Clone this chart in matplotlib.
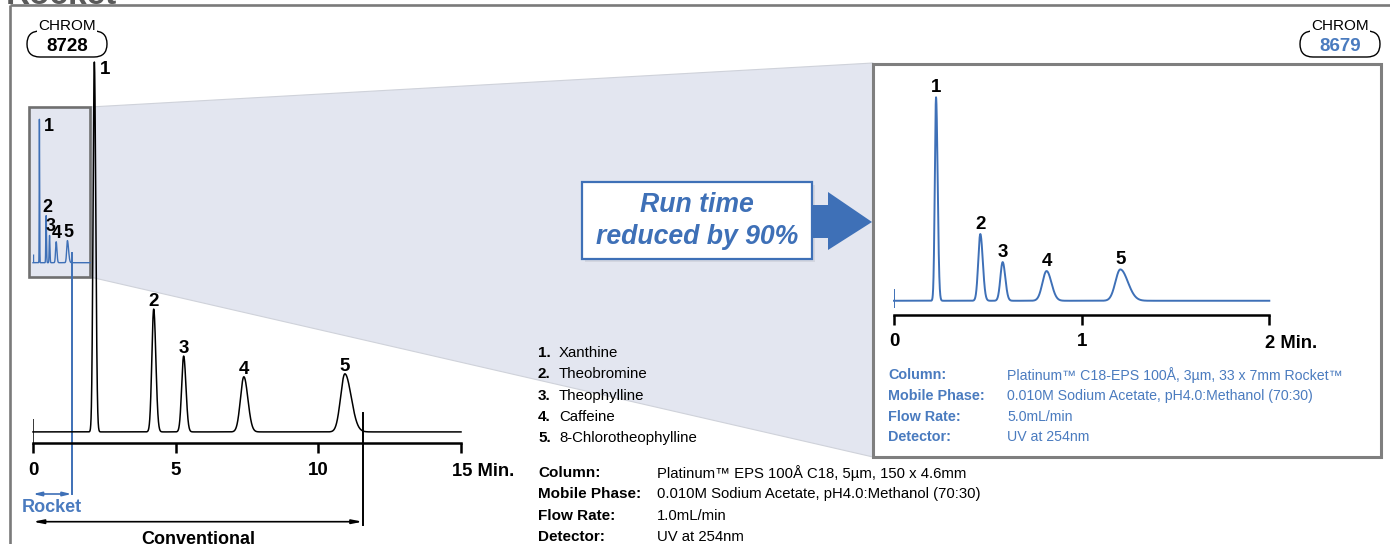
import matplotlib.pyplot as plt
import numpy as np
from matplotlib.patches import Polygon, Rectangle, FancyBboxPatch
from matplotlib.transforms import blended_transform_factory

W, H = 1390, 544

plt.rcParams['font.family'] = ['Liberation Sans', 'DejaVu Sans']

BLUE = '#3e70b7'
BLUE_TXT = '#4a7bbf'
SHADE = '#e3e6f0'

# peak table, conventional 150 x 4.6mm column (relative height, peak 1 = 100)
peak_ids = ['1', '2', '3', '4', '5']
compounds = ['Xanthine', 'Theobromine', 'Theophylline', 'Caffeine', '8-Chlorotheophylline']

conv_rt = [2.15, 4.23, 5.28, 7.39, 10.93]
conv_height = [100, 33.2, 20.5, 14.9, 15.7]
conv_sig_l = [0.045, 0.065, 0.07, 0.12, 0.15]
conv_sig_r = [0.05, 0.075, 0.08, 0.14, 0.22]
conv_run_end = 11.55
conv_ticks = [0, 5, 10, 15]

# peak table, Rocket 33 x 7mm column
rocket_rt = [0.224, 0.46, 0.579, 0.813, 1.206]
rocket_height = [100, 32.8, 19.0, 14.6, 15.4]
rocket_sig_l = [0.0065, 0.011, 0.012, 0.022, 0.026]
rocket_sig_r = [0.0085, 0.013, 0.014, 0.026, 0.04]
rocket_run_end = 1.35
rocket_ticks = [0, 1, 2]

cond_labels = ['Column:', 'Mobile Phase:', 'Flow Rate:', 'Detector:']
conv_cond = ['Platinum\u2122 EPS 100\u00c5 C18, 5\u00b5m, 150 x 4.6mm',
             '0.010M Sodium Acetate, pH4.0:Methanol (70:30)',
             '1.0mL/min',
             'UV at 254nm']
rocket_cond = ['Platinum\u2122 C18-EPS 100\u00c5, 3\u00b5m, 33 x 7mm Rocket\u2122',
               '0.010M Sodium Acetate, pH4.0:Methanol (70:30)',
               '5.0mL/min',
               'UV at 254nm']


def trace(t, rt, height, sl, sr):
    y = np.zeros_like(t)
    for r, h, a, b in zip(rt, height, sl, sr):
        s = np.where(t < r, a, b)
        y += h * np.exp(-0.5 * ((t - r) / s) ** 2)
    return y


def rect(x0, y0, x1, y1):
    return [x0 / W, 1 - y1 / H, (x1 - x0) / W, (y1 - y0) / H]


fig = plt.figure(figsize=(W / 100, H / 100), dpi=100)

# background layer in pixel units
bg = fig.add_axes([0, 0, 1, 1], zorder=0)
bg.set_xlim(0, W)
bg.set_ylim(H, 0)
bg.axis('off')

bg.text(6, 4, 'Rocket', fontsize=24, fontweight='bold', color='#5a5a5a', va='baseline')
bg.plot([10, W], [5, 5], color='#7a7a7a', lw=1.9, solid_capstyle='butt')
bg.plot([10, 10], [5, H], color='#7a7a7a', lw=1.9, solid_capstyle='butt')

bg.add_patch(Polygon([(90, 107), (873, 63), (873, 457), (90, 277)],
                     closed=True, fc=SHADE, ec='#cfd2da', lw=0.8))
bg.add_patch(Rectangle((29, 107), 61, 170, fc=SHADE, ec='#6f6f6f', lw=1.9))
bg.add_patch(Rectangle((873, 64), 508, 393, fc='white', ec='#7f7f7f', lw=2.2))

# callout
bg.add_patch(Rectangle((585, 185), 230, 77, fc='#c9ccd6', ec='none', alpha=0.6))
bg.add_patch(Rectangle((582, 182), 230, 77, fc='white', ec=BLUE, lw=1.6))
bg.add_patch(Polygon([(812, 205), (828, 205), (828, 192), (872, 222),
                      (828, 250), (828, 238), (812, 238)], closed=True, fc=BLUE, ec='none'))
bg.text(697, 221, 'Run time\nreduced by 90%', color=BLUE, fontsize=19.2,
        fontweight='bold', style='italic', ha='center', va='center', linespacing=1.33)

# CHROM badges
for cx, num, col in [(67, '8728', 'black'), (1340, '8679', BLUE_TXT)]:
    bg.add_patch(FancyBboxPatch((cx - 40, 31), 80, 26,
                                boxstyle='round,pad=0,rounding_size=13',
                                fc='white', ec='black', lw=1.0))
    bg.text(cx, 26, 'CHROM', fontsize=11, ha='center', va='center',
            bbox=dict(fc='white', ec='none', pad=0.5))
    bg.text(cx, 46.5, num, fontsize=13.5, fontweight='bold', color=col,
            ha='center', va='center')

# compound list
for i, (pid, name) in enumerate(zip(peak_ids, compounds)):
    y = 353 + i * 21.3
    bg.text(538, y, pid + '.', fontsize=11, fontweight='bold', va='center')
    bg.text(559, y, name, fontsize=10.8, va='center')

# run conditions
for i, (lab, v1, v2) in enumerate(zip(cond_labels, conv_cond, rocket_cond)):
    y = 473.3 + i * 21.1
    bg.text(538, y, lab, fontsize=11, fontweight='bold', va='center')
    bg.text(657, y, v1, fontsize=10.7, va='center')
    y = 375 + i * 20.8
    bg.text(888, y, lab, fontsize=10.4, fontweight='bold', color=BLUE_TXT, va='center')
    bg.text(1007, y, v2, fontsize=10.2, color=BLUE_TXT, va='center')

# chromatogram axes
ax_c = fig.add_axes(rect(33, 62, 461, 443), zorder=2)
ax_i = fig.add_axes(rect(33, 119.3, 461, 262.7), zorder=2)
ax_r = fig.add_axes(rect(894, 97.3, 1269.3, 315), zorder=2)

t_conv = np.linspace(0, 15, 8000)
t_rock = np.linspace(0, 2, 8000)
y_conv = trace(t_conv, conv_rt, conv_height, conv_sig_l, conv_sig_r)
y_rock = trace(t_rock, rocket_rt, rocket_height, rocket_sig_l, rocket_sig_r)

ax_c.plot(t_conv, y_conv, color='black', lw=1.1, clip_on=False)
ax_c.vlines(0, -3, 3.5, color='black', lw=1.1)
ax_c.set_xlim(0, 15)
ax_c.set_ylim(-3, 100)

ax_i.plot(t_rock, y_rock, color=BLUE, lw=1.0, clip_on=False)
ax_i.vlines(0, -2.8, 6.1, color=BLUE, lw=1.0)
ax_i.set_xlim(0, 15)
ax_i.set_ylim(0, 100)
ax_i.axis('off')

ax_r.plot(t_rock, y_rock, color=BLUE, lw=1.4, clip_on=False)
ax_r.vlines(0, -3.6, 5.7, color=BLUE, lw=1.4)
ax_r.set_xlim(0, 2)
ax_r.set_ylim(-7, 100)

for ax, ticks, unit_off, pad in [(ax_c, conv_ticks, -9, 7), (ax_r, rocket_ticks, -4.5, 6)]:
    ax.patch.set_visible(False)
    for s in ['top', 'left', 'right']:
        ax.spines[s].set_visible(False)
    ax.spines['bottom'].set_linewidth(1.8)
    ax.set_yticks([])
    ax.set_xticks(ticks)
    ax.set_xticklabels([str(v) for v in ticks[:-1]] + [''], fontsize=13.5, fontweight='bold')
    ax.tick_params(axis='x', direction='out', length=7, width=1.8, pad=pad)
    ax.annotate('%d Min.' % ticks[-1], xy=(ticks[-1], 0), xycoords=('data', 'axes fraction'),
                xytext=(unit_off, -29), textcoords='offset pixels',
                fontsize=13.2, fontweight='bold', ha='left', va='center')

# peak numbers
for ax, rt, hts, fs, gap in [(ax_c, conv_rt, conv_height, 13.5, 3),
                             (ax_r, rocket_rt, rocket_height, 13.5, 5),
                             (ax_i, rocket_rt, rocket_height, 13, 4)]:
    for k, (pid, r, h) in enumerate(zip(peak_ids, rt, hts)):
        if k == 0 and ax is not ax_r:
            ax.annotate(pid, xy=(r, h), xytext=(4 if ax is ax_i else 6, -7),
                        textcoords='offset pixels', fontsize=fs, fontweight='bold',
                        ha='left', va='center')
        else:
            ax.annotate(pid, xy=(r, h), xytext=(1 if ax is ax_i else 0, gap),
                        textcoords='offset pixels', fontsize=fs, fontweight='bold',
                        ha='center', va='baseline')

# run length markers: x in minutes, y in pixels
tr = blended_transform_factory(ax_c.transData, bg.transData)
bg.plot([rocket_run_end, rocket_run_end], [253, 494], color=BLUE, lw=1.4, transform=tr,
        zorder=5)
bg.annotate('', xy=(0, 494), xytext=(rocket_run_end, 494), xycoords=tr, textcoords=tr,
            arrowprops=dict(arrowstyle='<|-|>,head_length=0.5,head_width=0.12',
                            color=BLUE, lw=1.2, shrinkA=0, shrinkB=0))
bg.text(rocket_run_end / 2, 508, 'Rocket', transform=tr, color=BLUE_TXT, fontsize=13,
        fontweight='bold', ha='center', va='center')
bg.plot([conv_run_end, conv_run_end], [413, 525], color='black', lw=1.4, transform=tr)
bg.annotate('', xy=(0, 521.7), xytext=(conv_run_end, 521.7), xycoords=tr, textcoords=tr,
            arrowprops=dict(arrowstyle='<|-|>,head_length=0.6,head_width=0.12',
                            color='black', lw=1.2, shrinkA=0, shrinkB=0))
bg.text(conv_run_end / 2, 543.5, 'Conventional', transform=tr, fontsize=13,
        fontweight='bold', ha='center', va='baseline')

fig.savefig('out.png', dpi=100)
